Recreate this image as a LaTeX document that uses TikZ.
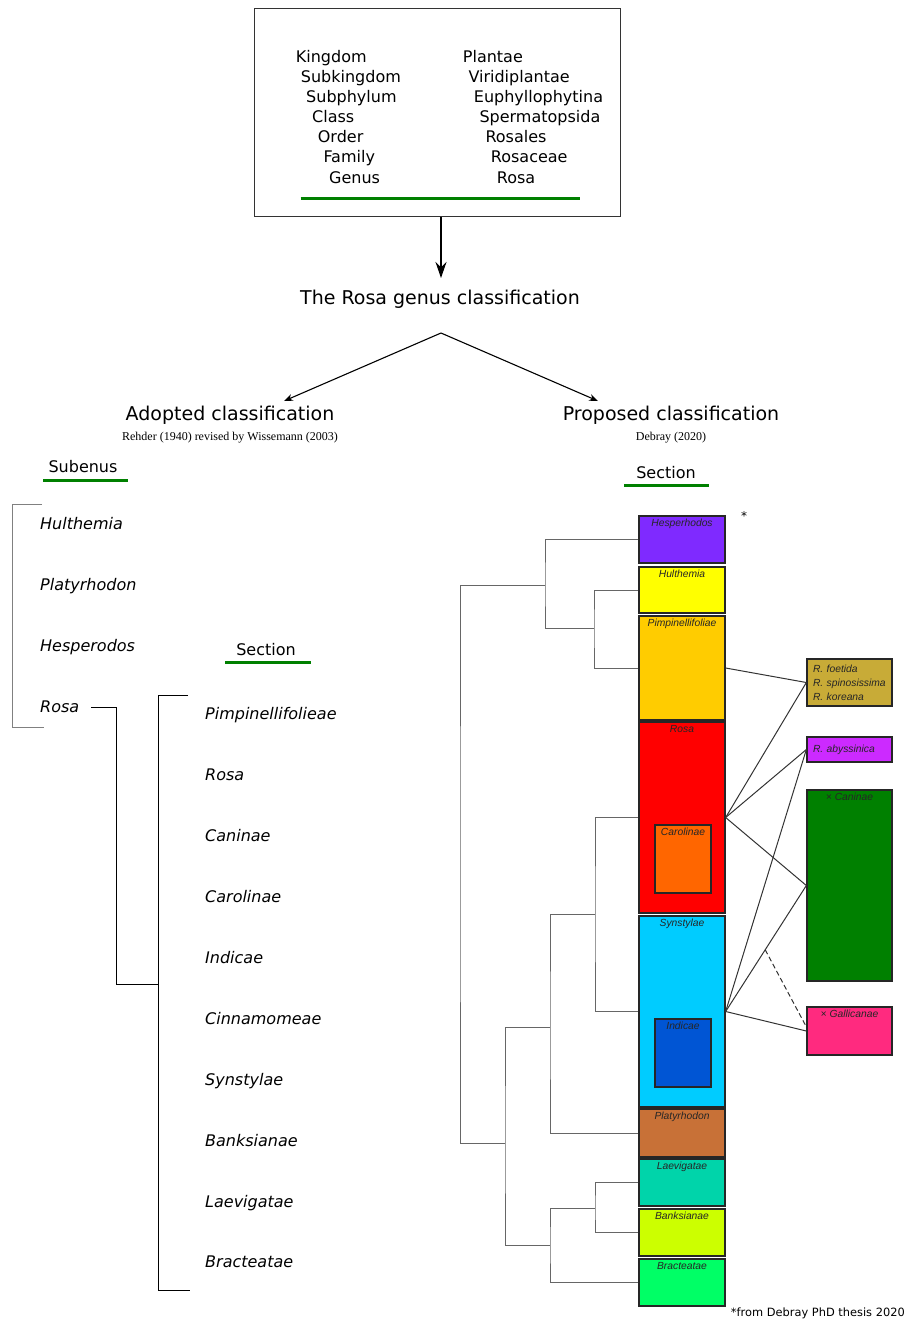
\documentclass[tikz,border=0pt]{standalone}
\usepackage{fontspec}
\setmainfont{DejaVu Sans}
\newfontfamily\arfont{Liberation Sans}
\newfontfamily\serfont{Liberation Serif}
\usetikzlibrary{arrows.meta,calc}
\definecolor{cHesp}{HTML}{7F2AFF}
\definecolor{cHult}{HTML}{FFFF00}
\definecolor{cPimp}{HTML}{FFCC00}
\definecolor{cRosa}{HTML}{FF0000}
\definecolor{cCaro}{HTML}{FF6600}
\definecolor{cSyn}{HTML}{00CCFF}
\definecolor{cInd}{HTML}{0055D4}
\definecolor{cPlat}{HTML}{C87137}
\definecolor{cLaev}{HTML}{00D4AA}
\definecolor{cBank}{HTML}{CCFF00}
\definecolor{cBrac}{HTML}{00FF66}
\definecolor{cFoet}{HTML}{C8AB37}
\definecolor{cAbys}{HTML}{CC2AFF}
\definecolor{cCan}{HTML}{008000}
\definecolor{cGal}{HTML}{FF2A7F}
\definecolor{cGreen}{HTML}{008000}
\begin{document}
\begin{tikzpicture}[x=1pt,y=-1pt,
  lbl/.style={font=\fontsize{16}{19}\selectfont, text height=11.7pt, text depth=0pt, inner sep=0pt, anchor=west},
  ilbl/.style={lbl, font=\fontsize{16}{19}\selectfont\itshape},
  head/.style={font=\fontsize{19}{23}\selectfont, text height=13.9pt, text depth=0pt, inner sep=0pt},
  subh/.style={font=\serfont\fontsize{12}{14}\selectfont, text height=8.5pt, text depth=0pt, inner sep=0pt},
  uline/.style={draw=cGreen, line width=3pt},
  box/.style={draw=black!85, line width=1.3pt, inner sep=0pt, minimum width=86pt},
  rbox/.style={draw=black!85, line width=1.3pt, minimum width=85pt, text width=73pt, inner xsep=6pt, inner ysep=0pt, align=left, font=\arfont\itshape\fontsize{10.3}{14}\selectfont, text=black!85},
  blab/.style={anchor=north, inner sep=3.5pt, font=\arfont\itshape\fontsize{10.3}{12}\selectfont, text=black!85},
  tree/.style={draw=black!60, line width=1pt},
  conn/.style={draw=black!80, line width=1pt},
  arr/.style={draw=black, line width=1.1pt, -{Stealth[length=9pt,width=7pt]}}
]
\useasboundingbox (0,0) rectangle (906,1323);

% ---------- top box ----------
\node[draw=black!80, line width=1pt, minimum width=366pt, minimum height=208pt, inner sep=0pt] (topbox) at (437,112.5) {};
\node[lbl] (k1) at (295.7,57) {Kingdom};
\node[lbl] (k2) at (300.7,77) {Subkingdom};
\node[lbl] (k3) at (306,97) {Subphylum};
\node[lbl] (k4) at (312,117) {Class};
\node[lbl] (k5) at (317.7,137) {Order};
\node[lbl] (k6) at (323.3,157) {Family};
\node[lbl] (k7) at (329,177.5) {Genus};
\node[lbl] (v1) at (462.7,57) {Plantae};
\node[lbl] (v2) at (468.3,77) {Viridiplantae};
\node[lbl] (v3) at (473.7,97) {Euphyllophytina};
\node[lbl] (v4) at (479.3,117) {Spermatopsida};
\node[lbl] (v5) at (485.3,137) {Rosales};
\node[lbl] (v6) at (490.7,157) {Rosaceae};
\node[lbl] (v7) at (496.7,177.5) {Rosa};
\draw[uline] (300.7,198.7) -- (580,198.7);

% ---------- title ----------
\node[head] (title) at (440,298) {The Rosa genus classification};
\draw[draw=black, line width=1.2pt, -{Stealth[length=16pt,width=11pt]}] (topbox.south -| 441,0) -- (441,278);

\coordinate (split) at (441,333);
\coordinate (aEnd) at (284,401);
\coordinate (pEnd) at (598,401);
\draw[arr] (split) -- (aEnd);
\draw[arr] (split) -- (pEnd);

\node[head] (adopted) at (230,414) {Adopted classification};
\node[subh] (adoptedsub) at (230,436) {Rehder (1940) revised by Wissemann (2003)};
\node[head] (proposed) at (671,414) {Proposed classification};
\node[subh] (proposedsub) at (671,436) {Debray (2020)};

% ---------- left: adopted ----------
\node[lbl, anchor=center] (subg) at (83,467) {Subenus};
\draw[uline] (43,480) -- (128,480);
\node[lbl, anchor=center] (secL) at (266,650) {Section};
\draw[uline] (225,662) -- (311,662);

\node[ilbl] (gHul) at (40,524) {Hulthemia};
\node[ilbl] (gPla) at (40,585) {Platyrhodon};
\node[ilbl] (gHes) at (40,646) {Hesperodos};
\node[ilbl] (gRos) at (40,707) {Rosa};

\draw[draw=black!50, line width=1pt] (42,504) -- (12,504) -- (12,727) -- (44,727);

\node[ilbl] (s1) at (205,714) {Pimpinellifolieae};
\node[ilbl] (s2) at (205,775) {Rosa};
\node[ilbl] (s3) at (205,836) {Caninae};
\node[ilbl] (s4) at (205,897) {Carolinae};
\node[ilbl] (s5) at (205,958) {Indicae};
\node[ilbl] (s6) at (205,1019) {Cinnamomeae};
\node[ilbl] (s7) at (205,1080) {Synstylae};
\node[ilbl] (s8) at (205,1141) {Banksianae};
\node[ilbl] (s9) at (205,1202) {Laevigatae};
\node[ilbl] (s10) at (205,1262) {Bracteatae};

\coordinate (secJoin) at (158,984);
\draw[draw=black, line width=0.9pt] ([xshift=12pt]gRos.east) -| (116,984) -- (secJoin);
\draw[draw=black, line width=0.9pt] (188,695) -- (158,695) -- (158,1290) -- (190,1290);

% ---------- right: proposed ----------
\node[lbl, anchor=center] (secR) at (666,473) {Section};
\draw[uline] (624,485) -- (709,485);
\node[font=\fontsize{12}{14}\selectfont, inner sep=0pt] (star) at (744,516) {*};

\node[box, fill=cHesp, minimum height=47pt, label={[blab]north:Hesperhodos}] (hesp) at (682,539.5) {};
\node[box, fill=cHult, minimum height=46pt, label={[blab]north:Hulthemia}] (hult) at (682,590) {};
\node[box, fill=cPimp, minimum height=104pt, label={[blab]north:Pimpinellifoliae}] (pimp) at (682,668) {};
\node[box, fill=cRosa, minimum height=191pt, label={[blab]north:Rosa}] (rosa) at (682,817.5) {};
\node[box, fill=cCaro, minimum width=56pt, minimum height=68pt, label={[blab]north:Carolinae}] (caro) at (683,859) {};
\node[box, fill=cSyn, minimum height=191pt, label={[blab]north:Synstylae}] (syn) at (682,1011.5) {};
\node[box, fill=cInd, minimum width=56pt, minimum height=68pt, label={[blab]north:Indicae}] (ind) at (683,1053) {};
\node[box, fill=cPlat, minimum height=48pt, label={[blab]north:Platyrhodon}] (plat) at (682,1133) {};
\node[box, fill=cLaev, minimum height=47pt, label={[blab]north:Laevigatae}] (laev) at (682,1182.5) {};
\node[box, fill=cBank, minimum height=47pt, label={[blab]north:Banksianae}] (bank) at (682,1232.5) {};
\node[box, fill=cBrac, minimum height=47pt, label={[blab]north:Bracteatae}] (brac) at (682,1282.5) {};

\node[rbox, fill=cFoet, minimum height=47pt] (foet) at (849.5,682.5) {R. foetida\\R. spinosissima\\R. koreana};
\node[rbox, fill=cAbys, minimum height=25pt] (abys) at (849.5,749.5) {R. abyssinica};
\node[box, fill=cCan, minimum width=85pt, minimum height=191pt, label={[blab]north:× Caninae}] (can) at (849.5,885.5) {};
\node[box, fill=cGal, minimum width=85pt, minimum height=48pt, label={[blab]north:× Gallicanae}] (gal) at (849.5,1031) {};

% dendrogram
\coordinate (nB) at (594,628);
\coordinate (nA) at (545,585);
\coordinate (nR) at (460,864);
\coordinate (nC) at (505,1143);
\coordinate (nD) at (550,1027);
\coordinate (nE) at (550,1245);
\coordinate (nF) at (595,914);
\coordinate (nG) at (595,1208);
\draw[tree] (hult.west) -| (nB) |- (pimp.west);
\draw[tree] (hesp.west) -| (nA) |- (nB);
\draw[tree] (nA) -| (nR) |- (nC);
\draw[tree] (nD) -| (nC) |- (nE);
\draw[tree] (nF) -| (nD) |- (plat.west);
\draw[tree] (rosa.west) -| (nF) |- (syn.west);
\draw[tree] (nG) -| (nE) |- (brac.west);
\draw[tree] (laev.west) -| (nG) |- (bank.west);

% links
\draw[conn] (pimp.east) -- (foet.west);
\draw[conn] (rosa.east) -- (foet.west);
\draw[conn] (rosa.east) -- (abys.west);
\draw[conn] (rosa.east) -- (can.west);
\draw[conn] (syn.east) -- (abys.west);
\draw[conn] (syn.east) -- (can.west);
\draw[conn] (syn.east) -- (gal.west);
\draw[conn, dash pattern=on 5pt off 3pt] ($(syn.east)!0.49!(can.west)$) -- ($(gal.west)+(-1,-6)$);

\node[font=\fontsize{11.4}{14}\selectfont, anchor=east, inner sep=0pt] (foot) at (905,1313) {*from Debray PhD thesis 2020};
\end{tikzpicture}
\end{document}
